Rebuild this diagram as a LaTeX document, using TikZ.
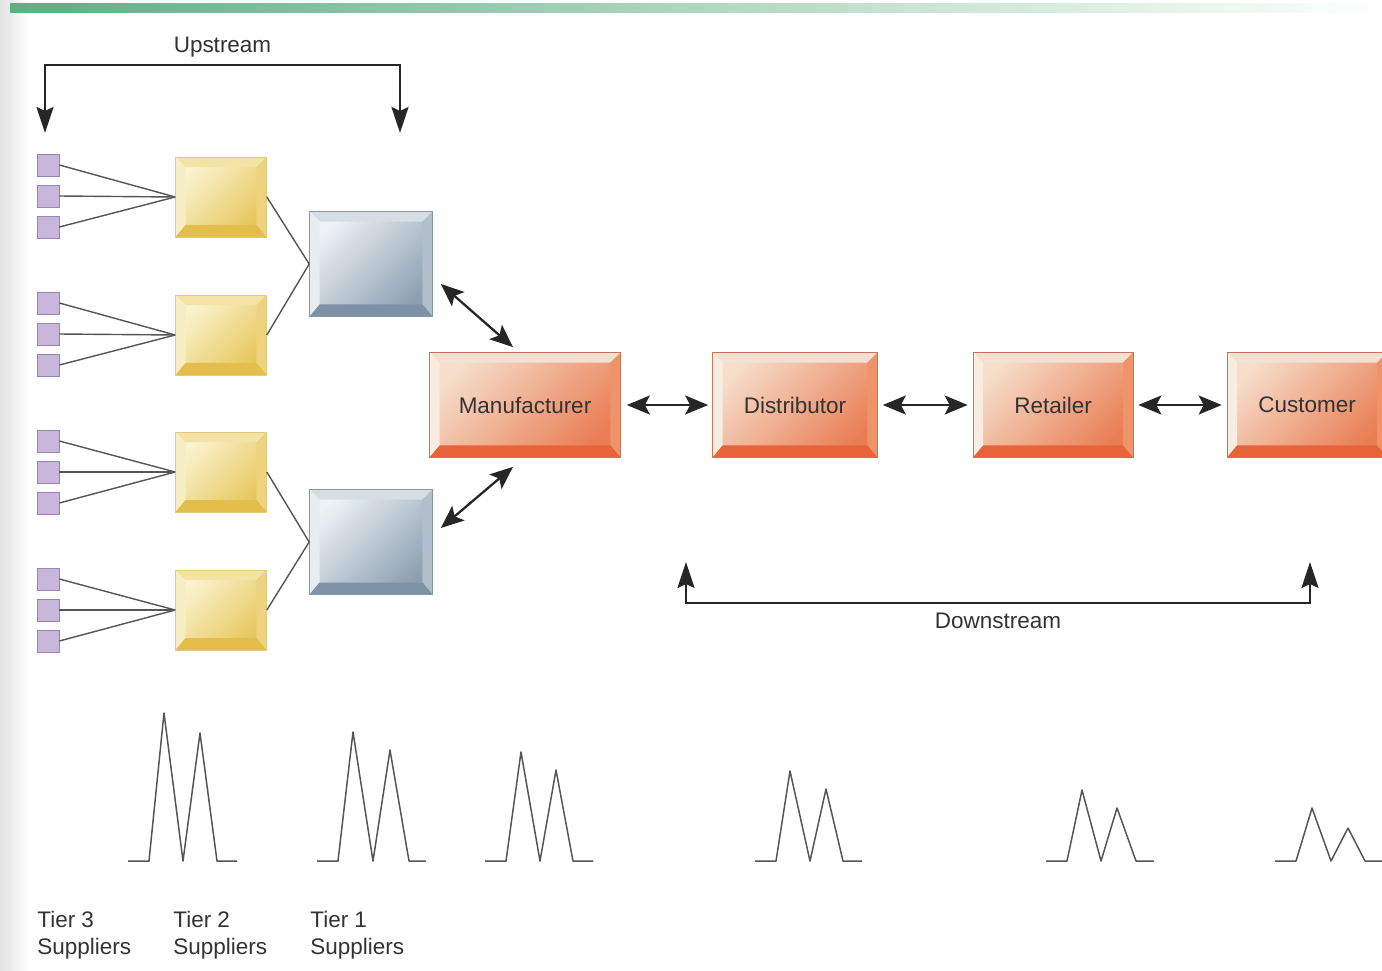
\documentclass[tikz,border=0pt]{standalone}
\usepackage{fontspec}
\setmainfont{Liberation Sans}
\usetikzlibrary{positioning}
\usetikzlibrary{arrows.meta,calc}

\definecolor{txt}{HTML}{333333}
\definecolor{bargreen}{HTML}{5FAE82}
\definecolor{linkgray}{HTML}{555555}
\definecolor{sqfill}{HTML}{C8B6DC}
\definecolor{sqedge}{HTML}{9985B5}
\definecolor{yface}{HTML}{FBF4D2}
\definecolor{ydark}{HTML}{E6C65A}
\definecolor{ytop}{HTML}{F3E3A4}
\definecolor{yleft}{HTML}{F8EEC6}
\definecolor{yright}{HTML}{EDD37E}
\definecolor{ybot}{HTML}{E3BE4A}
\definecolor{yedge}{HTML}{E0CB80}
\definecolor{bface}{HTML}{EEF2F5}
\definecolor{bdark}{HTML}{8CA0B1}
\definecolor{btop}{HTML}{D5DEE5}
\definecolor{bleft}{HTML}{E6ECF0}
\definecolor{bright}{HTML}{B0BFCB}
\definecolor{bbot}{HTML}{7D92A4}
\definecolor{bedge}{HTML}{8697A6}
\definecolor{oface}{HTML}{F6DECB}
\definecolor{odark}{HTML}{E97E55}
\definecolor{otop}{HTML}{F5E1D3}
\definecolor{oleft}{HTML}{F9EDE2}
\definecolor{oright}{HTML}{EE9468}
\definecolor{obot}{HTML}{E7643A}
\definecolor{oedge}{HTML}{C9745A}

\tikzset{
 bevel/.style n args={4}{path picture={
  \fill[#1] (path picture bounding box.north west) -- (path picture bounding box.north east)
   -- ([xshift=-0.2cm,yshift=-0.2cm]path picture bounding box.north east)
   -- ([xshift=0.2cm,yshift=-0.2cm]path picture bounding box.north west) -- cycle;
  \fill[#2] (path picture bounding box.north west) -- ([xshift=0.2cm,yshift=-0.2cm]path picture bounding box.north west)
   -- ([xshift=0.2cm,yshift=0.24cm]path picture bounding box.south west)
   -- (path picture bounding box.south west) -- cycle;
  \fill[#3] (path picture bounding box.north east) -- ([xshift=-0.2cm,yshift=-0.2cm]path picture bounding box.north east)
   -- ([xshift=-0.2cm,yshift=0.24cm]path picture bounding box.south east)
   -- (path picture bounding box.south east) -- cycle;
  \fill[#4] (path picture bounding box.south west) -- ([xshift=0.2cm,yshift=0.24cm]path picture bounding box.south west)
   -- ([xshift=-0.2cm,yshift=0.24cm]path picture bounding box.south east)
   -- (path picture bounding box.south east) -- cycle;
 }},
 tier3/.style={draw=sqedge, fill=sqfill, minimum size=0.44cm, inner sep=0},
 tier2/.style={draw=yedge, top color=yface, bottom color=ydark, shading angle=45,
  minimum width=1.82cm, minimum height=1.6cm, inner sep=0, bevel={ytop}{yleft}{yright}{ybot}},
 tier1/.style={draw=bedge, top color=bface, bottom color=bdark, shading angle=45,
  minimum width=2.46cm, minimum height=2.1cm, inner sep=0, bevel={btop}{bleft}{bright}{bbot}},
 firm/.style={draw=oedge, top color=oface, bottom color=odark, shading angle=45,
  minimum height=2.1cm, inner sep=0, bevel={otop}{oleft}{oright}{obot}},
 link/.style={draw=linkgray, line width=0.8pt},
 twoway/.style={Stealth-Stealth, line width=1.3pt, draw=black!85,
  arrows={[length=0.46cm, width=0.38cm, inset=0.1cm]}},
 bracket/.style={Stealth-Stealth, line width=1.1pt, draw=black!85,
  arrows={[length=0.52cm, width=0.34cm, inset=0.08cm]}},
 wave/.style={draw=linkgray, line width=0.85pt, line join=round},
 caption/.style={anchor=north west, align=left, inner sep=0}
}

\begin{document}
\begin{tikzpicture}[x=0.02cm,y=-0.02cm,font=\fontsize{12.8}{15.3}\selectfont,text=txt]
\useasboundingbox (0,0) rectangle (1382,970);
% page edge and top bar
\shade[left color=gray!22,right color=white] (0,0) rectangle (30,970);
\shade[left color=bargreen,right color=white] (10,3) rectangle (1382,12);

% tier 2
\node[tier2] (y1) at (221,197) {};
\node[tier2] (y2) at (221,335) {};
\node[tier2] (y3) at (221,472) {};
\node[tier2] (y4) at (221,610) {};
% tier 1
\node[tier1] (b1) at (371,264) {};
\node[tier1] (b2) at (371,542) {};
% chain
\node[firm,minimum width=3.82cm] (man) at (525,405) {Manufacturer};
\node[firm,minimum width=3.3cm] (dis) at (795,405) {Distributor};
\node[firm,minimum width=3.2cm] (ret) at (1053,405) {Retailer};
\node[firm,minimum width=3.2cm] (cus) at (1307,405) {Customer};

% tier 3
\node[tier3] (s1) at (48,165) {};
\node[tier3] (s2) at (48,196) {};
\node[tier3] (s3) at (48,227) {};
\node[tier3] (s4) at (48,303) {};
\node[tier3] (s5) at (48,334) {};
\node[tier3] (s6) at (48,365) {};
\node[tier3] (s7) at (48,441) {};
\node[tier3] (s8) at (48,472) {};
\node[tier3] (s9) at (48,503) {};
\node[tier3] (s10) at (48,579) {};
\node[tier3] (s11) at (48,610) {};
\node[tier3] (s12) at (48,641) {};

\draw[link] (s1.east) -- (y1.west);
\draw[link] (s2.east) -- (y1.west);
\draw[link] (s3.east) -- (y1.west);
\draw[link] (s4.east) -- (y2.west);
\draw[link] (s5.east) -- (y2.west);
\draw[link] (s6.east) -- (y2.west);
\draw[link] (s7.east) -- (y3.west);
\draw[link] (s8.east) -- (y3.west);
\draw[link] (s9.east) -- (y3.west);
\draw[link] (s10.east) -- (y4.west);
\draw[link] (s11.east) -- (y4.west);
\draw[link] (s12.east) -- (y4.west);
\draw[link] (y1.east) -- (b1.west);
\draw[link] (y2.east) -- (b1.west);
\draw[link] (y3.east) -- (b2.west);
\draw[link] (y4.east) -- (b2.west);

% two-way flows
\draw[twoway] ($(b1.east)+(8,20)$) -- ($(man.north)+(-12,-5)$);
\draw[twoway] ($(b2.east)+(8,-14)$) -- ($(man.south)+(-12,9)$);
\draw[twoway,shorten <=0.12cm,shorten >=0.08cm] (man.east) -- (dis.west);
\draw[twoway,shorten <=0.1cm,shorten >=0.1cm] (dis.east) -- (ret.west);
\draw[twoway,shorten <=0.1cm,shorten >=0.1cm] (ret.east) -- (cus.west);

% upstream / downstream
\coordinate (upL) at (45,133);
\coordinate (upR) at (400,133);
\coordinate (dnL) at (686,562);
\coordinate (dnR) at (1310,562);
\draw[bracket] (upL) -- ++(0,-68) -| node[pos=0.25,above=0.7pt] (up) {Upstream} (upR);
\draw[bracket] (dnL) -- ++(0,41) -| node[pos=0.25,below=2pt] (dn) {Downstream} (dnR);

% demand swings
\draw[wave] (128,861) -- (149,861) -- (164,713) -- (183,861) -- (200,733) -- (217,861) -- (237,861);
\draw[wave] (317,861) -- (338,861) -- (353,732) -- (373,861) -- (390,750) -- (409,861) -- (426,861);
\draw[wave] (485,861) -- (506,861) -- (521,752) -- (540,861) -- (556,770) -- (573,861) -- (593,861);
\draw[wave] (755,861) -- (776,861) -- (790,771) -- (810,861) -- (826,789) -- (843,861) -- (862,861);
\draw[wave] (1046,861) -- (1067,861) -- (1082,790) -- (1101,861) -- (1117,808) -- (1136,861) -- (1154,861);
\draw[wave] (1275,861) -- (1296,861) -- (1312,808) -- (1331,861) -- (1348,828) -- (1365,861) -- (1384,861);

\node[caption] (t3) at (37,911) {Tier 3\\Suppliers};
\node[caption] (t2) at (173,911) {Tier 2\\Suppliers};
\node[caption] (t1) at (310,911) {Tier 1\\Suppliers};
\end{tikzpicture}
\end{document}
